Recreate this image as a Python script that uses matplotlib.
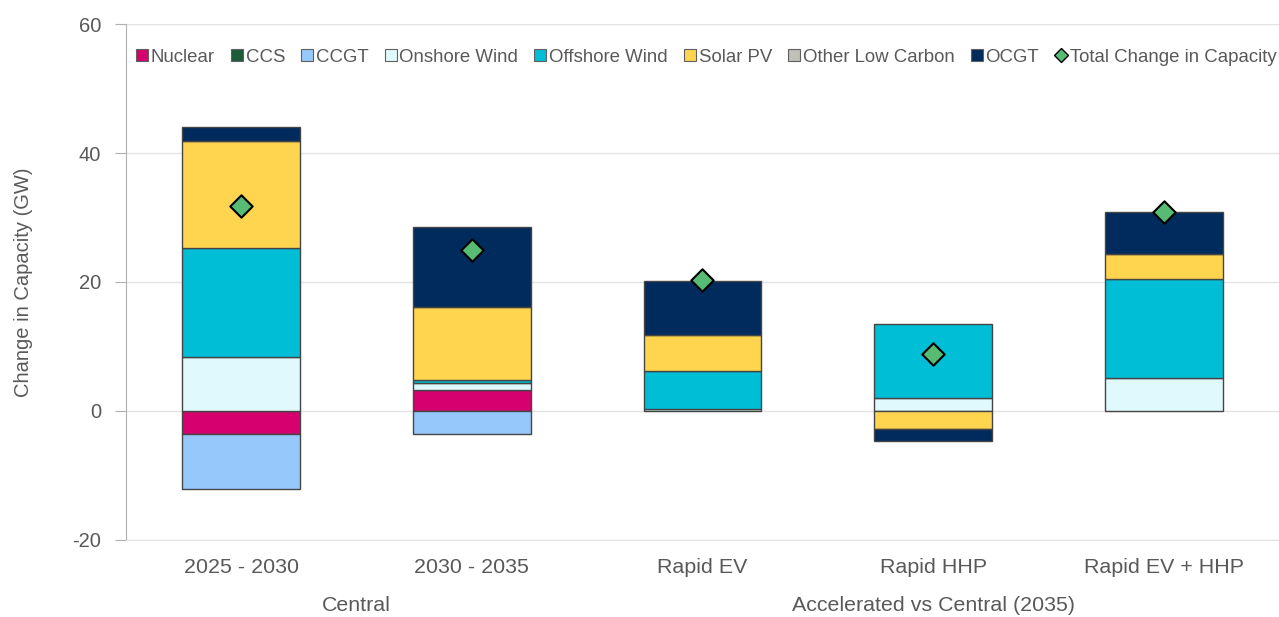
import matplotlib.pyplot as plt
from matplotlib.lines import Line2D
from matplotlib.patches import Patch
import numpy as np

plt.rcParams['font.family'] = ['Liberation Sans', 'DejaVu Sans']
plt.rcParams['axes.unicode_minus'] = False

# data (GW change in capacity)
categories = ['2025 - 2030', '2030 - 2035', 'Rapid EV', 'Rapid HHP', 'Rapid EV + HHP']
groups = ['Central', 'Accelerated vs Central (2035)']
group_span = [(0, 1), (2, 4)]

nuclear = [-3.5, 3.3, 0, 0, 0]
ccs = [0, 0, 0, 0, 0]
ccgt = [-8.6, -3.5, 0, 0, 0]
onshore = [8.3, 1.0, 0.3, 2.0, 5.1]
offshore = [16.9, 0.5, 5.9, 11.5, 15.4]
solar = [16.6, 11.3, 5.6, -2.8, 3.9]
other_lc = [0, 0, 0, 0, 0]
ocgt = [2.2, 12.4, 8.4, -1.8, 6.5]
total = [31.8, 25.0, 20.3, 8.8, 30.8]

series = [
    ('Nuclear', nuclear, '#D6006F'),
    ('CCS', ccs, '#1E5B38'),
    ('CCGT', ccgt, '#97C8FC'),
    ('Onshore Wind', onshore, '#E0F9FC'),
    ('Offshore Wind', offshore, '#00BED6'),
    ('Solar PV', solar, '#FFD54F'),
    ('Other Low Carbon', other_lc, '#C0C0B8'),
    ('OCGT', ocgt, '#002B5C'),
]

txt = '#595959'
fig = plt.figure(figsize=(12.79, 6.17), dpi=100)
ax = fig.add_axes([0.0985, 0.1248, 0.9015, 0.8363])

x = np.arange(len(categories))
pos_base = np.zeros(len(x))
neg_base = np.zeros(len(x))
for name, vals, col in series:
    v = np.array(vals, dtype=float)
    for i in range(len(x)):
        if v[i] > 0:
            ax.bar(x[i], v[i], 0.51, bottom=pos_base[i], color=col, edgecolor='#454545', linewidth=1, zorder=3)
            pos_base[i] += v[i]
        elif v[i] < 0:
            ax.bar(x[i], v[i], 0.51, bottom=neg_base[i], color=col, edgecolor='#454545', linewidth=1, zorder=3)
            neg_base[i] += v[i]

ax.scatter(x, total, marker='D', s=130, color='#58BB74', edgecolor='black', linewidth=1.5, zorder=4)

ax.set_xlim(-0.5, 4.5)
ax.set_ylim(-20, 60)
ax.set_yticks([-20, 0, 20, 40, 60])
ax.grid(axis='y', color='#e3e3e3', linewidth=1, zorder=0)
for s in ['top', 'right']:
    ax.spines[s].set_visible(False)
ax.spines['bottom'].set_color('#e3e3e3')
ax.spines['left'].set_color('#b0b0b0')
ax.tick_params(axis='y', colors='#b0b0b0', labelcolor=txt, labelsize=14.5, length=8, pad=10)
ax.set_xticks(x)
ax.set_xticklabels(categories)
ax.tick_params(axis='x', length=0, labelcolor=txt, labelsize=15.4, pad=13)
ax.set_ylabel('Change in Capacity (GW)', color=txt, fontsize=14.5, labelpad=28)

for g, (a, b) in zip(groups, group_span):
    ax.text((a + b) / 2, -0.127, g, transform=ax.get_xaxis_transform(),
            ha='center', va='center', color=txt, fontsize=15.4)

handles = [Patch(facecolor=c, edgecolor='#606060', linewidth=0.8, label=n) for n, v, c in series]
handles.append(Line2D([], [], marker='D', linestyle='none', markersize=7.5,
                      markerfacecolor='#58BB74', markeredgecolor='black', label='Total Change in Capacity'))
ax.legend(handles=handles, ncol=9, loc='center left', bbox_to_anchor=(0.002, 0.936),
          frameon=False, fontsize=13.4, handlelength=0.65, handleheight=0.65,
          handletextpad=0.15, columnspacing=0.86, labelcolor=txt, borderaxespad=0)

fig.savefig('out.png', dpi=100)
